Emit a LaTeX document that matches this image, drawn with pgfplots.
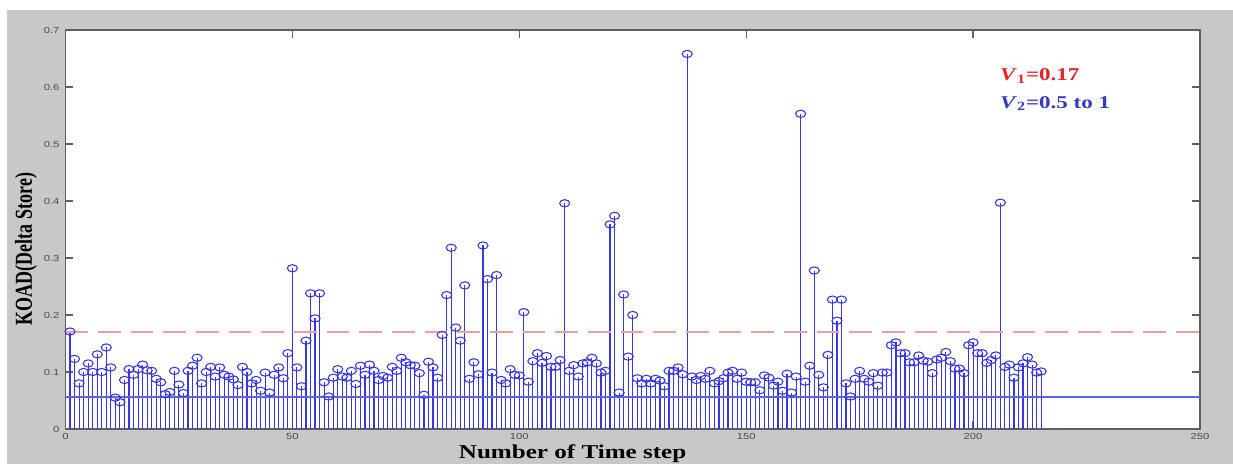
\documentclass[border=0pt]{standalone}
\usepackage{fontspec}
\setmainfont{Liberation Serif}
\newfontfamily\tickfont{Liberation Sans}
\usepackage{pgfplots}
\pgfplotsset{compat=1.18}
\usepackage{pgfplotstable}
\definecolor{bgGray}{RGB}{200,200,200}
\definecolor{stemBlue}{RGB}{55,55,225}
\definecolor{lineBlue}{RGB}{90,100,235}
\definecolor{refRed}{RGB}{238,160,160}
\definecolor{txtRed}{RGB}{225,35,35}
\definecolor{txtBlue}{RGB}{50,60,190}
\definecolor{axGray}{RGB}{95,95,95}

\pgfplotstableread{
x y
1 0.171
2 0.123
3 0.080
4 0.100
5 0.115
6 0.100
7 0.131
8 0.100
9 0.143
10 0.108
11 0.055
12 0.047
13 0.086
14 0.105
15 0.095
16 0.105
17 0.113
18 0.103
19 0.102
20 0.088
21 0.082
22 0.061
23 0.065
24 0.102
25 0.078
26 0.063
27 0.102
28 0.111
29 0.125
30 0.080
31 0.100
32 0.109
33 0.092
34 0.108
35 0.095
36 0.092
37 0.087
38 0.077
39 0.109
40 0.100
41 0.080
42 0.086
43 0.067
44 0.099
45 0.064
46 0.095
47 0.108
48 0.089
49 0.133
50 0.282
51 0.108
52 0.075
53 0.155
54 0.238
55 0.194
56 0.238
57 0.082
58 0.057
59 0.090
60 0.105
61 0.092
62 0.090
63 0.102
64 0.079
65 0.111
66 0.095
67 0.113
68 0.102
69 0.086
70 0.093
71 0.090
72 0.109
73 0.102
74 0.125
75 0.117
76 0.112
77 0.111
78 0.098
79 0.060
80 0.118
81 0.108
82 0.090
83 0.165
84 0.235
85 0.318
86 0.178
87 0.155
88 0.252
89 0.088
90 0.117
91 0.096
92 0.322
93 0.263
94 0.099
95 0.270
96 0.086
97 0.080
98 0.105
99 0.095
100 0.094
101 0.205
102 0.083
103 0.119
104 0.133
105 0.116
106 0.128
107 0.109
108 0.109
109 0.121
110 0.396
111 0.102
112 0.112
113 0.092
114 0.115
115 0.117
116 0.125
117 0.115
118 0.099
119 0.102
120 0.359
121 0.374
122 0.064
123 0.236
124 0.127
125 0.200
126 0.089
127 0.080
128 0.088
129 0.080
130 0.088
131 0.085
132 0.075
133 0.102
134 0.102
135 0.108
136 0.096
137 0.658
138 0.092
139 0.086
140 0.093
141 0.088
142 0.102
143 0.080
144 0.084
145 0.089
146 0.099
147 0.102
148 0.088
149 0.099
150 0.083
151 0.082
152 0.082
153 0.068
154 0.094
155 0.090
156 0.076
157 0.083
158 0.067
159 0.097
160 0.064
161 0.092
162 0.553
163 0.083
164 0.111
165 0.278
166 0.095
167 0.073
168 0.130
169 0.227
170 0.190
171 0.227
172 0.080
173 0.057
174 0.088
175 0.102
176 0.088
177 0.083
178 0.098
179 0.076
180 0.099
181 0.099
182 0.147
183 0.152
184 0.133
185 0.133
186 0.117
187 0.117
188 0.129
189 0.120
190 0.118
191 0.098
192 0.122
193 0.125
194 0.135
195 0.119
196 0.106
197 0.106
198 0.098
199 0.147
200 0.152
201 0.133
202 0.133
203 0.116
204 0.121
205 0.129
206 0.397
207 0.109
208 0.113
209 0.090
210 0.108
211 0.115
212 0.126
213 0.113
214 0.099
215 0.101
}\koad

\pgfplotstableread{
x y
0 0.0556
250 0.0556
}\vtwo

\begin{document}
\begin{tikzpicture}
\fill[bgGray] (5.25pt,0) rectangle (924.75pt,340.5pt);
\begin{axis}[
  at={(49.1pt,26.25pt)}, anchor=south west,
  scale only axis, width=850.9pt, height=299.25pt,
  xmin=0, xmax=250, ymin=0, ymax=0.7,
  xtick={0,50,...,250}, ytick={0,0.1,...,0.7},
  axis background/.style={fill=white},
  axis line style={axGray, line width=1.1pt},
  tick style={axGray, line width=0.9pt},
  major tick length=6pt,
  tick align=inside,
  /pgf/number format/assume math mode=true,
  ticklabel style={font=\tickfont\fontsize{6.6}{7}\selectfont, text=black!70, xscale=1.28},
  yticklabel style={/pgf/number format/.cd, fixed, precision=1},
  scaled y ticks=false,
  xlabel={Number of Time step},
  ylabel={KOAD(Delta Store)},
  every axis x label/.style={at={(rel axis cs:0.447,0)}, anchor=base, yshift=-22.5pt, xscale=1.28, font=\bfseries\fontsize{14.7}{16}\selectfont},
  every axis y label/.style={at={(rel axis cs:0,0.451)}, xshift=-29.6pt, rotate=90, yscale=1.35, anchor=center, font=\bfseries\fontsize{13.5}{15}\selectfont},
]
\addplot[ycomb, color=stemBlue, line width=0.85pt, mark=o, mark size=2.7pt, mark options={xscale=1.4, line width=0.8pt}] table {\koad};
\addplot[sharp plot, draw=lineBlue, mark=none, line width=1.4pt] table {\vtwo};
\addplot[sharp plot, draw=refRed, mark=none, line width=1.5pt, dash pattern=on 17pt off 7.5pt] coordinates {(0,0.17) (250,0.17)};
\node[anchor=base west, xscale=1.28, text=txtRed, font=\bfseries\fontsize{13.5}{15}\selectfont, inner sep=0pt] at (axis cs:205.9,0.612) {\textit{V}\textsubscript{1}=0.17};
\node[anchor=base west, xscale=1.28, text=txtBlue, font=\bfseries\fontsize{13.5}{15}\selectfont, inner sep=0pt] at (axis cs:205.9,0.563) {\textit{V}\textsubscript{2}=0.5 to 1};
\end{axis}
\pgfresetboundingbox
\useasboundingbox (0,0) rectangle (924.75pt,348pt);
\end{tikzpicture}
\end{document}
